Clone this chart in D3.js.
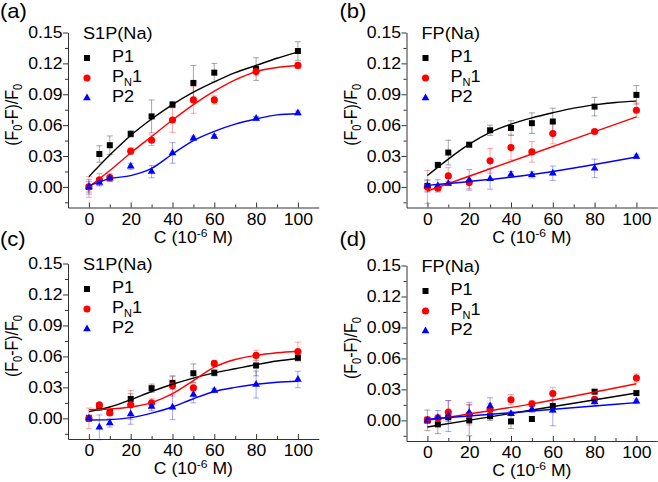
<!DOCTYPE html>
<html>
<head>
<meta charset="utf-8">
<title>quenching curves</title>
<style>
  body { margin: 0; background: #fff; }
  text { font-family: "Liberation Sans", Arial, sans-serif; fill: #000; }
</style>
</head>
<body>
<div class="chart"></div>
<script src="https://d3js.org/d3.v7.min.js"></script>
<script>
var conc = [0, 5, 10, 20, 30, 40, 50, 60, 80, 100];
var fitX = [0, 10, 20, 30, 40, 50, 60, 70, 80, 90, 100];
var lineX = [0, 50, 100];
var seriesNames = ["P1", "PN1", "P2"];
var seriesColors = ["#000000", "#ff0000", "#0000ff"];
var yTicks = [0, 0.03, 0.06, 0.09, 0.12, 0.15];
var yMinor = [-0.015, 0.015, 0.045, 0.075, 0.105, 0.135];
var xTicks = [0, 20, 40, 60, 80, 100];
var xMinor = [10, 30, 50, 70, 90];
var panelLabels = ["(a)", "(b)", "(c)", "(d)"];
var legendTitles = ["S1P(Na)", "FP(Na)", "S1P(Na)", "FP(Na)"];

// (a)
var aP1 = [0, 0.032, 0.0405, 0.0515, 0.0685, 0.080, 0.101, 0.111, 0.1145, 0.132];
var aP1Err = [0.005, 0.008, 0.009, 0.003, 0.016, 0.003, 0.017, 0.009, 0.011, 0.009];
var aPN1 = [0, 0.007, 0.009, 0.0347, 0.0453, 0.065, 0.0845, 0.0845, 0.112, 0.118];
var aPN1Err = [0.01, 0.006, 0.004, 0.003, 0.005, 0.012, 0.013, 0.004, 0.004, 0.003];
var aP2 = [0, 0.0042, 0.0084, 0.020, 0.0149, 0.033, 0.0473, 0.0489, 0.0664, 0.0719];
var aP2Err = [0.007, 0.003, 0.003, 0.003, 0.006, 0.010, 0.002, 0.002, 0.002, 0.002];
var aFitP1 = [0.010, 0.031, 0.050, 0.066, 0.080, 0.092, 0.102, 0.111, 0.118, 0.125, 0.131];
var aFitPN1 = [0.000, 0.016, 0.033, 0.049, 0.065, 0.080, 0.093, 0.104, 0.112, 0.116, 0.118];
var aFitP2 = [0.001, 0.008, 0.011, 0.018, 0.032, 0.045, 0.054, 0.061, 0.066, 0.070, 0.071];

// (b)
var bP1 = [0.001, 0.0214, 0.0334, 0.041, 0.055, 0.0573, 0.0619, 0.0635, 0.078, 0.0894];
var bP1Err = [0.005, 0.002, 0.012, 0.002, 0.005, 0.007, 0.010, 0.013, 0.009, 0.009];
var bPN1 = [0, -0.0013, 0.0107, 0.0042, 0.0253, 0.0382, 0.034, 0.0518, 0.0538, 0.0745];
var bPN1Err = [0.016, 0.002, 0.008, 0.006, 0.012, 0.012, 0.010, 0.010, 0.002, 0.007];
var bP2 = [0.001, 0.001, 0.0032, 0.0068, 0.0078, 0.012, 0.0117, 0.0133, 0.018, 0.0295];
var bP2Err = [0.006, 0.006, 0.002, 0.010, 0.010, 0.003, 0.003, 0.007, 0.009, 0.002];
var bFitP1 = [0.011, 0.027, 0.0415, 0.053, 0.061, 0.067, 0.072, 0.0765, 0.0797, 0.082, 0.0833];
var bFitPN1 = [-0.004, 0.032, 0.068];
var bFitP2 = [0.0015, 0.012, 0.029];

// (c)
var cP1 = [0, 0.0107, 0.006, 0.0188, 0.0292, 0.0344, 0.0437, 0.0441, 0.0512, 0.0587];
var cP1Err = [0.003, 0.003, 0.002, 0.005, 0.004, 0.006, 0.009, 0.003, 0.010, 0.003];
var cPN1 = [0, 0.013, 0.0052, 0.013, 0.015, 0.0315, 0.0295, 0.0532, 0.061, 0.0648];
var cPN1Err = [0.010, 0.002, 0.002, 0.014, 0.004, 0.010, 0.004, 0.003, 0.005, 0.009];
var cP2 = [0, -0.0087, -0.0045, 0.0043, 0.0114, 0.0107, 0.023, 0.027, 0.0327, 0.0376];
var cP2Err = [0.003, 0.012, 0.004, 0.010, 0.004, 0.012, 0.008, 0.002, 0.013, 0.008];
var cFitP1 = [0.0065, 0.011, 0.018, 0.026, 0.033, 0.039, 0.044, 0.048, 0.052, 0.0555, 0.058];
var cFitPN1 = [0.0085, 0.009, 0.011, 0.0153, 0.024, 0.0366, 0.0496, 0.057, 0.061, 0.0635, 0.065];
var cFitP2 = [-0.0016, -0.0012, 0.0007, 0.005, 0.011, 0.019, 0.026, 0.030, 0.033, 0.035, 0.036];

// (d)
var dP1 = [0, -0.0039, 0.003, 0.0, 0.004, -0.001, 0.0013, 0.0139, 0.0278, 0.0264];
var dP1Err = [0.010, 0.009, 0.004, 0.015, 0.004, 0.007, 0.002, 0.006, 0.002, 0.002];
var dPN1 = [0.0006, 0.0022, 0.008, 0.0055, 0.0104, 0.020, 0.016, 0.026, 0.0204, 0.041];
var dPN1Err = [0.003, 0.003, 0.011, 0.010, 0.006, 0.005, 0.003, 0.006, 0.003, 0.004];
var dP2 = [0, 0.0026, 0.0042, 0.0075, 0.0139, 0.0065, 0.0107, 0.0097, 0.0178, 0.0185];
var dP2Err = [0.003, 0.007, 0.015, 0.010, 0.008, 0.002, 0.003, 0.015, 0.004, 0.002];
var dFitP1 = [-0.0065, 0.010, 0.0265];
var dFitPN1 = [0.000, 0.016, 0.0355];
var dFitP2 = [0.001, 0.009, 0.0172];

var W = 658, H = 482, SX = 1.1;

// panel table, built from the arrays above
var panels = [
  { left: 68, top: 32.5, bottom: 207.5, labelY: 18,
    vals: [aP1, aPN1, aP2], errs: [aP1Err, aPN1Err, aP2Err],
    fitXs: [fitX, fitX, fitX], fits: [aFitP1, aFitPN1, aFitP2] },
  { left: 406.5, top: 32.5, bottom: 207.5, labelY: 18,
    vals: [bP1, bPN1, bP2], errs: [bP1Err, bPN1Err, bP2Err],
    fitXs: [fitX, lineX, lineX], fits: [bFitP1, bFitPN1, bFitP2] },
  { left: 68, top: 263.5, bottom: 439, labelY: 246,
    vals: [cP1, cPN1, cP2], errs: [cP1Err, cPN1Err, cP2Err],
    fitXs: [fitX, fitX, fitX], fits: [cFitP1, cFitPN1, cFitP2] },
  { left: 406.5, top: 265.5, bottom: 441, labelY: 246,
    vals: [dP1, dPN1, dP2], errs: [dP1Err, dPN1Err, dP2Err],
    fitXs: [lineX, lineX, lineX], fits: [dFitP1, dFitPN1, dFitP2] }
];

var symbols = [
  d3.symbol().type(d3.symbolSquare).size(36),
  d3.symbol().type(d3.symbolCircle).size(40),
  d3.symbol().type(d3.symbolTriangle).size(26)
];

var svg = d3.select(".chart").append("svg")
  .attr("width", W).attr("height", H);

// text a bit wider than the font, like the reference
function stext(g, x, y, size) {
  return g.append("text")
    .attr("transform", "translate(" + x + "," + y + ") scale(" + SX + ",1)")
    .attr("font-size", size);
}

function nameText(t, name) {
  if (name === "PN1") {
    t.append("tspan").text("P");
    t.append("tspan").attr("font-size", 10).attr("dy", 4).text("N");
    t.append("tspan").attr("dy", -4).text("1");
  } else {
    t.text(name);
  }
}

panels.forEach(function(p, pi) {
  var x = d3.scaleLinear().domain([-10, 110]).range([p.left, p.left + 250.8]);
  var y = d3.scaleLinear().domain([-0.02, 0.15]).range([p.bottom, p.top]);
  var g = svg.append("g");

  // axes
  var ya = g.append("g").attr("transform", "translate(" + p.left + ",0)")
    .attr("color", "#333")
    .call(d3.axisLeft(y).tickValues(yTicks).tickFormat(d3.format(".2f"))
      .tickSize(5).tickSizeOuter(0).tickPadding(0));
  ya.selectAll(".tick text").attr("font-size", 16)
    .attr("font-family", "Liberation Sans, Arial, sans-serif")
    .style("fill", "#000").attr("transform", "scale(" + SX + ",1)");
  g.append("g").attr("transform", "translate(" + p.left + ",0)")
    .attr("color", "#333")
    .call(d3.axisLeft(y).tickValues(yMinor).tickFormat("").tickSize(3))
    .select(".domain").remove();

  var xa = g.append("g").attr("transform", "translate(0," + p.bottom + ")")
    .attr("color", "#333")
    .call(d3.axisBottom(x).tickValues(xTicks).tickSize(-5).tickSizeOuter(0).tickPadding(6));
  xa.selectAll(".tick text").attr("font-size", 16)
    .attr("font-family", "Liberation Sans, Arial, sans-serif")
    .style("fill", "#000").attr("transform", "scale(" + SX + ",1)");
  g.append("g").attr("transform", "translate(0," + p.bottom + ")")
    .attr("color", "#333")
    .call(d3.axisBottom(x).tickValues(xMinor).tickFormat("").tickSize(-3))
    .select(".domain").remove();

  // axis titles
  var xt = stext(g, x(50), p.bottom + 35, 16).attr("text-anchor", "middle");
  xt.append("tspan").text("C (10");
  xt.append("tspan").attr("font-size", 11).attr("dy", -6).text("-6");
  xt.append("tspan").attr("dy", 6).text(" M)");

  var yt = g.append("text")
    .attr("transform", "translate(" + (p.left - 50) + "," + y(0.07) + ") scale(" + SX + ",1) rotate(-90)")
    .attr("font-size", 16).attr("text-anchor", "middle");
  yt.append("tspan").text("(F");
  yt.append("tspan").attr("font-size", 11).attr("dy", 4).text("0");
  yt.append("tspan").attr("dy", -4).text("-F)/F");
  yt.append("tspan").attr("font-size", 11).attr("dy", 4).text("0");

  stext(g, p.left - 68 + (pi % 2 ? 1 : 0), p.labelY, 20).text(panelLabels[pi]);

  // error bars
  p.vals.forEach(function(vals, si) {
    var eg = g.append("g").attr("stroke", seriesColors[si])
      .attr("stroke-opacity", 0.35).attr("stroke-width", 1);
    vals.forEach(function(v, i) {
      var e = p.errs[si][i], cx = x(conc[i]);
      eg.append("line").attr("x1", cx).attr("x2", cx).attr("y1", y(v - e)).attr("y2", y(v + e));
      eg.append("line").attr("x1", cx - 3).attr("x2", cx + 3).attr("y1", y(v - e)).attr("y2", y(v - e));
      eg.append("line").attr("x1", cx - 3).attr("x2", cx + 3).attr("y1", y(v + e)).attr("y2", y(v + e));
    });
  });

  // markers
  p.vals.forEach(function(vals, si) {
    g.append("g").selectAll("path").data(vals).enter().append("path")
      .attr("d", symbols[si])
      .attr("fill", seriesColors[si])
      .attr("transform", function(d, i) { return "translate(" + x(conc[i]) + "," + y(d) + ")"; });
  });

  // fitted curves
  p.fits.forEach(function(fy, si) {
    var fx = p.fitXs[si];
    var line = d3.line().curve(d3.curveMonotoneX)
      .x(function(d, i) { return x(fx[i]); })
      .y(function(d) { return y(d); });
    g.append("path").attr("d", line(fy))
      .attr("fill", "none").attr("stroke", seriesColors[si]).attr("stroke-width", 1.4);
  });

  // legend
  stext(g, p.left + 15, p.top + 6, 16.5).text(legendTitles[pi]);
  seriesNames.forEach(function(name, si) {
    g.append("path").attr("d", symbols[si]).attr("fill", seriesColors[si])
      .attr("transform", "translate(" + (p.left + 19) + "," + (p.top + 25.5 + si * 20) + ")");
    nameText(stext(g, p.left + 44, p.top + 29 + si * 20, 16.5), name);
  });
});
</script>
</body>
</html>
